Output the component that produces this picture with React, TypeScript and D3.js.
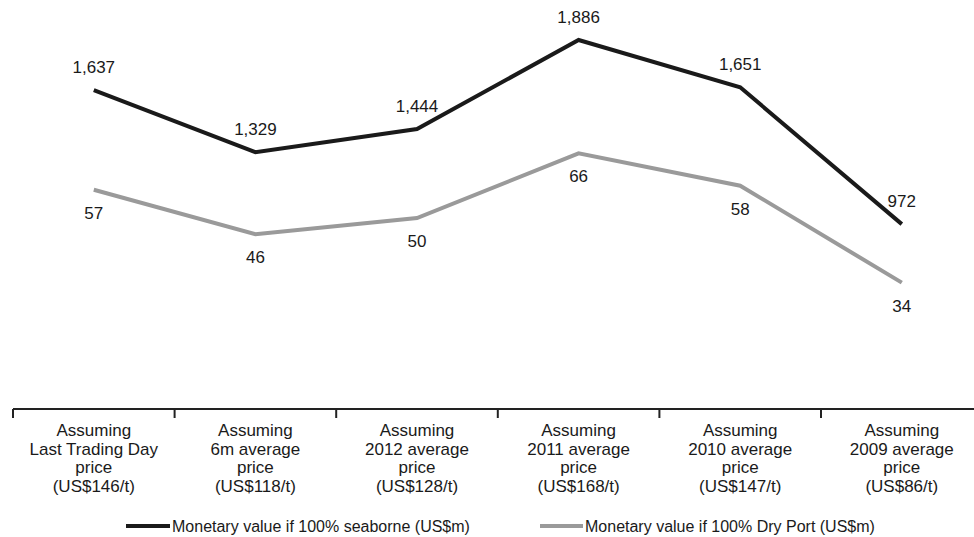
import React from "react";
import * as d3 from "d3";

const categories: string[][] = [
  ["Assuming", "Last Trading Day", "price", "(US$146/t)"],
  ["Assuming", "6m average", "price", "(US$118/t)"],
  ["Assuming", "2012 average", "price", "(US$128/t)"],
  ["Assuming", "2011 average", "price", "(US$168/t)"],
  ["Assuming", "2010 average", "price", "(US$147/t)"],
  ["Assuming", "2009 average", "price", "(US$86/t)"],
];
const seaborne = [1637, 1329, 1444, 1886, 1651, 972];
const dryPort = [57, 46, 50, 66, 58, 34];
const seriesNames = [
  "Monetary value if 100% seaborne (US$m)",
  "Monetary value if 100% Dry Port (US$m)",
];

const W = 974;
const H = 537;
const FONT = "'Liberation Sans', Arial, sans-serif";

export default function App() {
  const x = d3
    .scaleBand<number>()
    .domain(d3.range(categories.length))
    .range([13, 13 + 161.6 * 6])
    .padding(0);
  const ySea = d3.scaleLinear().domain([0, 2000]).range([420, 17]);
  const yDry = d3.scaleLinear().domain([0, 100]).range([420, 16]);
  const cx = (i: number) => (x(i) as number) + x.bandwidth() / 2;
  const lineSea = d3
    .line<number>()
    .x((_, i) => cx(i))
    .y((d) => ySea(d));
  const lineDry = d3
    .line<number>()
    .x((_, i) => cx(i))
    .y((d) => yDry(d));
  const fmt = d3.format(",");
  const axisY = 409;
  const ticks = d3.range(categories.length);

  return (
    <svg
      width={W}
      height={H}
      style={{ position: "absolute", left: 0, top: 0, background: "#fff" }}
      fontFamily={FONT}
    >
      <path d={lineDry(dryPort) || ""} fill="none" stroke="#9a9a9a" strokeWidth={4} strokeLinejoin="miter" />
      <path d={lineSea(seaborne) || ""} fill="none" stroke="#1a1a1a" strokeWidth={4} strokeLinejoin="miter" />
      {seaborne.map((v, i) => (
        <text key={"s" + i} x={cx(i)} y={ySea(v) - 17} textAnchor="middle" fontSize={17} fill="#1a1a1a">
          {fmt(v)}
        </text>
      ))}
      {dryPort.map((v, i) => (
        <text key={"d" + i} x={cx(i)} y={yDry(v) + 29} textAnchor="middle" fontSize={17} fill="#1a1a1a">
          {fmt(v)}
        </text>
      ))}
      <line x1={13} x2={W} y1={axisY} y2={axisY} stroke="#222" strokeWidth={2} />
      {ticks.map((i) => (
        <line key={"t" + i} x1={x(i) as number} x2={x(i) as number} y1={axisY} y2={418} stroke="#222" strokeWidth={2} />
      ))}
      {categories.map((lines, i) => (
        <text key={"c" + i} x={cx(i)} textAnchor="middle" fontSize={17} fill="#1a1a1a">
          {lines.map((l, j) => (
            <tspan key={j} x={cx(i)} y={436 + j * 18.7}>
              {l}
            </tspan>
          ))}
        </text>
      ))}
      <line x1={126} x2={170} y1={526} y2={526} stroke="#1a1a1a" strokeWidth={4} />
      <text x={172} y={531.5} fontSize={16} fill="#1a1a1a">
        {seriesNames[0]}
      </text>
      <line x1={540} x2={583} y1={526} y2={526} stroke="#9a9a9a" strokeWidth={4} />
      <text x={585} y={531.5} fontSize={16} fill="#1a1a1a">
        {seriesNames[1]}
      </text>
    </svg>
  );
}
